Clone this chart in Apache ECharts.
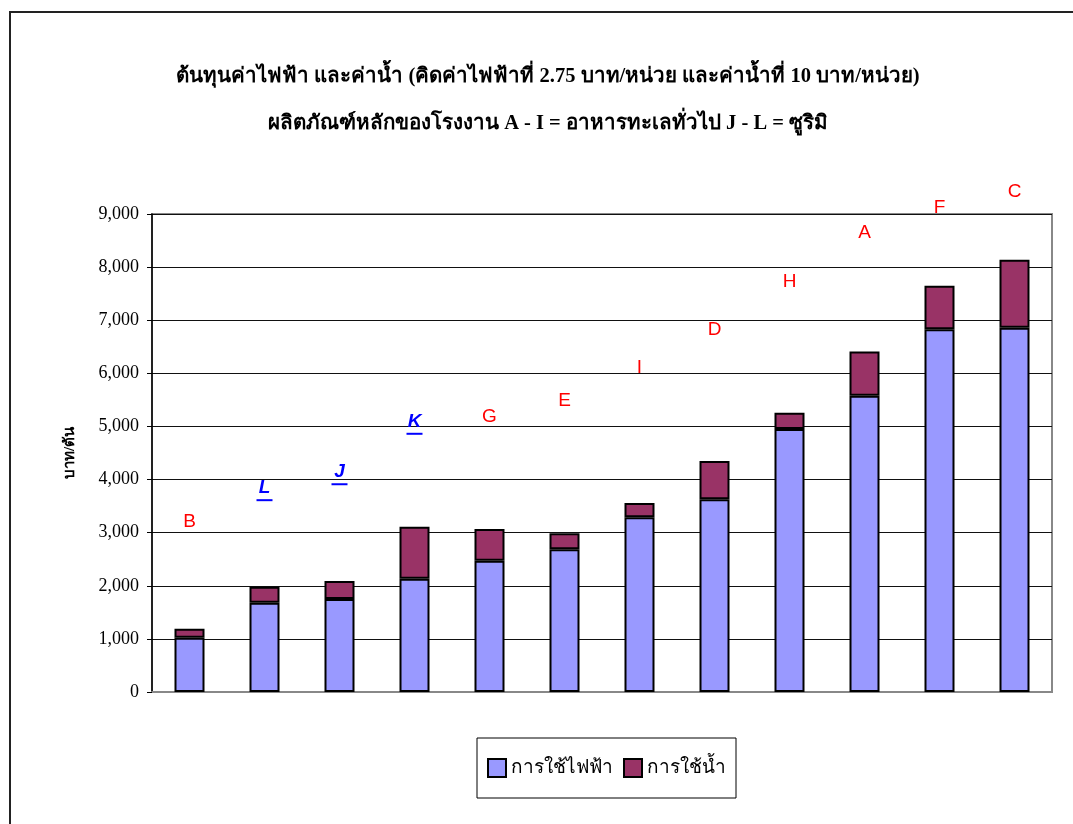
<!DOCTYPE html>
<html>
<head>
<meta charset="utf-8">
<script src="https://cdn.jsdelivr.net/npm/echarts@6/dist/echarts.min.js"></script>
<style>
  html, body { margin: 0; padding: 0; background: #fff; }
  #chart { width: 1073px; height: 824px; }
</style>
</head>
<body>
<div id="chart"></div>
<script>
// โรงงาน (เรียงตามต้นทุนรวม)
var plants = ['B', 'L', 'J', 'K', 'G', 'E', 'I', 'D', 'H', 'A', 'F', 'C'];
// ค่าไฟฟ้า (บาท/ตัน)
var electric = [1020, 1680, 1750, 2130, 2470, 2690, 3290, 3630, 4950, 5580, 6830, 6860];
// ค่าน้ำ (บาท/ตัน)
var water = [170, 300, 340, 980, 600, 300, 270, 720, 310, 830, 820, 1280];
// ตำแหน่งตัวอักษรกำกับ (ค่าแกน y)
var letterY = [3200, 3800, 4100, 5050, 5180, 5480, 6100, 6820, 7720, 8640, 9110, 9410];
// J - L = ซูริมิ (สีน้ำเงิน ขีดเส้นใต้)
var surimi = ['J', 'K', 'L'];

var yTicks = { min: 0, max: 9000, step: 1000 };

var chart = echarts.init(document.getElementById('chart'));

var option = {
  animation: false,
  backgroundColor: '#fff',
  title: {
    text: 'ต้นทุนค่าไฟฟ้า และค่าน้ำ (คิดค่าไฟฟ้าที่ 2.75 บาท/หน่วย และค่าน้ำที่ 10 บาท/หน่วย)\nผลิตภัณฑ์หลักของโรงงาน A - I = อาหารทะเลทั่วไป J - L = ซูริมิ',
    left: 543,
    textAlign: 'center',
    top: 48,
    textStyle: {
      fontFamily: 'Liberation Serif',
      fontWeight: 'bold',
      fontSize: 20.5,
      lineHeight: 47,
      color: '#000'
    }
  },
  legend: {
    orient: 'horizontal',
    left: 477,
    top: 738,
    padding: [20, 10, 20, 10],
    borderColor: '#000',
    borderWidth: 1,
    itemWidth: 18,
    itemHeight: 18,
    itemGap: 10,
    icon: 'rect',
    itemStyle: { borderColor: '#000', borderWidth: 2 },
    textStyle: { fontFamily: 'Liberation Serif', fontSize: 19, color: '#000' },
    data: ['การใช้ไฟฟ้า', 'การใช้น้ำ']
  },
  grid: {
    left: 152,
    right: 21,
    top: 214,
    bottom: 132,
    show: true,
    borderColor: '#888',
    borderWidth: 2,
    containLabel: false
  },
  xAxis: {
    type: 'category',
    data: plants,
    axisLine: { lineStyle: { color: '#888', width: 2 } },
    axisTick: { show: false },
    axisLabel: { show: false }
  },
  yAxis: {
    type: 'value',
    min: yTicks.min,
    max: yTicks.max,
    interval: yTicks.step,
    name: 'บาท/ตัน',
    nameLocation: 'middle',
    nameRotate: 90,
    nameGap: 74,
    nameTextStyle: { fontFamily: 'Liberation Serif', fontWeight: 'bold', fontSize: 15, color: '#000' },
    axisLine: { show: true, lineStyle: { color: '#000', width: 1.5 } },
    axisTick: { show: true, inside: false, length: 5, lineStyle: { color: '#000' } },
    axisLabel: {
      margin: 13,
      fontFamily: 'Liberation Serif',
      fontSize: 18,
      color: '#000',
      formatter: function (v) { return v.toLocaleString('en-US'); }
    },
    splitLine: { show: true, lineStyle: { color: '#111', width: 1 } }
  },
  series: [
    {
      name: 'การใช้ไฟฟ้า',
      type: 'bar',
      stack: 'cost',
      barWidth: 30,
      data: electric,
      itemStyle: { color: '#9999ff', borderColor: '#000', borderWidth: 2 }
    },
    {
      name: 'การใช้น้ำ',
      type: 'bar',
      stack: 'cost',
      barWidth: 30,
      data: water,
      itemStyle: { color: '#993366', borderColor: '#000', borderWidth: 2 }
    },
    {
      name: 'letters',
      type: 'scatter',
      clip: false,
      symbolSize: 0,
      silent: true,
      z: 10,
      itemStyle: { opacity: 1 },
      data: letterY,
      label: {
        show: true,
        position: 'inside',
        formatter: function (p) {
          var c = plants[p.dataIndex];
          if (surimi.indexOf(c) >= 0) return '{s|' + c + '}\n{u|}';
          return '{r|' + c + '}';
        },
        rich: {
          r: { fontFamily: 'Liberation Sans', fontSize: 19, color: '#ff0000' },
          s: { fontFamily: 'Liberation Sans', fontSize: 19, fontStyle: 'italic', fontWeight: 'bold', color: '#0000ff', lineHeight: 20 },
          u: { width: 16, height: 2, backgroundColor: '#0000ff', lineHeight: 4 }
        }
      }
    }
  ],
  graphic: [
    {
      type: 'rect',
      shape: { x: 10, y: 12, width: 1200, height: 1000 },
      style: { fill: 'none', stroke: '#222', lineWidth: 2 },
      silent: true
    }
  ]
};

chart.setOption(option);
</script>
</body>
</html>
